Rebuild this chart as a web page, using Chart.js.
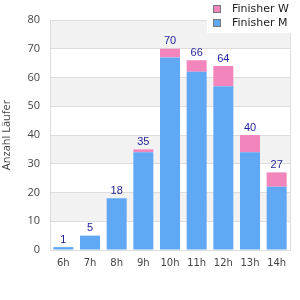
<!DOCTYPE html>
<html>
<head>
<meta charset="utf-8">
<script src="https://cdn.jsdelivr.net/npm/chart.js@4/dist/chart.umd.min.js"></script>
<style>
html,body{margin:0;padding:0;background:#fff;}
#wrap{width:300px;height:300px;position:relative;}
</style>
</head>
<body>
<div id="wrap"><canvas id="c" width="300" height="300"></canvas></div>
<script>
const categories = ['6h','7h','8h','9h','10h','11h','12h','13h','14h'];
const finisherM = [1, 5, 18, 34, 67, 62, 57, 34, 22];
const finisherW = [0, 0, 0, 1, 3, 4, 7, 6, 5];
const seriesNames = ['Finisher M', 'Finisher W'];
const yTitle = 'Anzahl Läufer';

const bandPlugin = {
  id: 'bands',
  beforeDraw(chart) {
    const {ctx, chartArea: a, scales: {y}} = chart;
    ctx.save();
    ctx.fillStyle = '#ffffff';
    ctx.fillRect(a.left, a.top, a.right - a.left, a.bottom - a.top);
    ctx.fillStyle = '#f2f2f2';
    const ticks = y.ticks.map(t => t.value);
    for (let i = 0; i < ticks.length - 1; i++) {
      const v0 = ticks[i], v1 = ticks[i + 1];
      if ((v0 / 10) % 2 === 1) {
        const p0 = y.getPixelForValue(v0), p1 = y.getPixelForValue(v1);
        ctx.fillRect(a.left, p1, a.right - a.left, p0 - p1);
      }
    }
    ctx.restore();
  },
  afterDraw(chart) {
    const {ctx, chartArea: a} = chart;
    ctx.save();
    ctx.strokeStyle = '#dddddd';
    ctx.lineWidth = 1;
    ctx.strokeRect(Math.round(a.left) + 0.5, Math.round(a.top) + 0.5, Math.round(a.right - a.left), Math.round(a.bottom - a.top));
    // totals
    const meta = chart.getDatasetMeta(chart.data.datasets.length - 1);
    ctx.fillStyle = '#1f1f99';
    ctx.font = '11px "Liberation Sans", Arial, sans-serif';
    ctx.textAlign = 'center';
    ctx.textBaseline = 'bottom';
    const y = chart.scales.y;
    categories.forEach((c, i) => {
      const total = chart.data.datasets.reduce((s, d) => s + d.data[i], 0);
      const x = meta.data[i].x;
      ctx.fillText(String(total), x, y.getPixelForValue(total) - 2);
    });
    // legend (reversed order)
    ctx.fillStyle = '#ffffff';
    ctx.fillRect(207, 0, 93, 33);
    const ds = chart.data.datasets.slice().reverse();
    ctx.font = '11px "DejaVu Sans", sans-serif';
    ctx.textAlign = 'left';
    ctx.textBaseline = 'middle';
    ds.forEach((d, k) => {
      const cy = 9 + k * 14;
      ctx.fillStyle = d.backgroundColor;
      ctx.fillRect(213, cy - 4, 8, 8);
      ctx.strokeStyle = '#777777';
      ctx.strokeRect(213.5, cy - 3.5, 7, 7);
      ctx.fillStyle = '#222222';
      ctx.fillText(d.label, 232, cy);
    });
    ctx.restore();
  }
};

new Chart(document.getElementById('c'), {
  type: 'bar',
  data: {
    labels: categories,
    datasets: [
      {label: seriesNames[0], data: finisherM, backgroundColor: '#60a8f4'},
      {label: seriesNames[1], data: finisherW, backgroundColor: '#f285bb'}
    ]
  },
  options: {
    responsive: false,
    animation: false,
    layout: {padding: {top: 20, right: 10, left: 0, bottom: 0}},
    categoryPercentage: 1,
    barPercentage: 0.75,
    plugins: {legend: {display: false}, tooltip: {enabled: false}},
    scales: {
      x: {
        stacked: true,
        grid: {display: false, drawTicks: false},
        border: {display: true, color: '#dddddd'},
        ticks: {color: '#444', font: {family: '"DejaVu Sans", sans-serif', size: 10}, padding: 7},
        afterFit(s) { s.height = 50; }
      },
      y: {
        stacked: true,
        min: 0, max: 80,
        grid: {color: '#dddddd', drawTicks: false},
        border: {display: true, color: '#dddddd'},
        ticks: {stepSize: 10, color: '#444', font: {family: '"Open Sans", sans-serif', size: 11}, padding: 10},
        title: {display: true, text: yTitle, color: '#444', font: {family: '"Open Sans", sans-serif', size: 11}, padding: 0},
        afterFit(s) { s.width = 50; }
      }
    }
  },
  plugins: [bandPlugin]
});
</script>
</body>
</html>
